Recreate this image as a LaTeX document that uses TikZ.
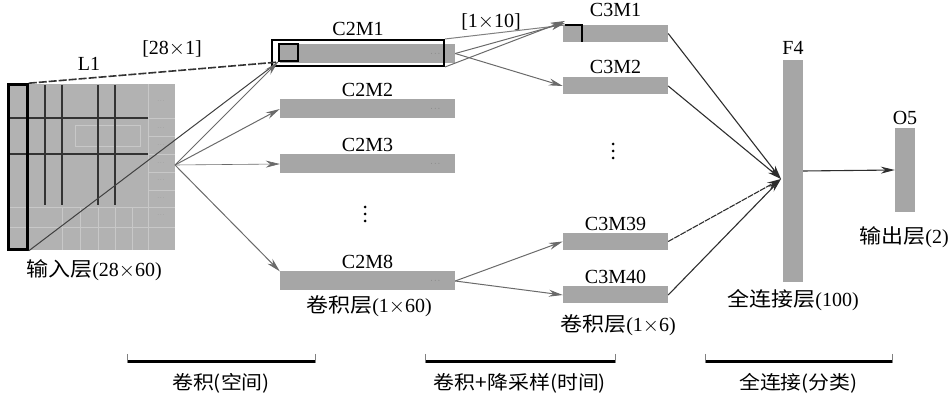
\documentclass[tikz,border=0pt]{standalone}
\usepackage{fontspec}
\setmainfont{Liberation Serif}
\newfontfamily\cjk[FakeStretch=1.1]{Noto Sans CJK SC}
\usetikzlibrary{arrows.meta,positioning}
\definecolor{barg}{HTML}{A6A6A6}
\definecolor{ing}{HTML}{B2B2B2}
\definecolor{arrg}{HTML}{6A6A6A}
\definecolor{arrd}{HTML}{2E2E2E}
\definecolor{faint}{HTML}{C8C8C8}
\begin{document}
\begin{tikzpicture}[x=1pt,y=-1pt,
  bar/.style={fill=barg,draw=none,inner sep=0pt,minimum width=175pt,minimum height=19pt},
  sbar/.style={fill=barg,draw=none,inner sep=0pt,minimum width=105pt,minimum height=17pt},
  lbl/.style={font=\fontsize{20}{22}\selectfont,inner sep=0pt},
  cnl/.style={font=\fontsize{19}{21}\selectfont\cjk,inner sep=0pt},
  arr/.style={draw=arrg,line width=1pt,-{Stealth[length=14pt,width=7pt]}},
  arrk/.style={draw=arrd,line width=1.1pt,-{Stealth[length=14pt,width=7pt]}},
  grid/.style={draw=black!80,line width=2pt},
  fline/.style={draw=faint,line width=0.6pt},
  blk/.style={draw=black,line width=2.2pt},
  brk/.style={draw=black,line width=3pt},
  tick/.style={draw=gray,line width=0.7pt},
  vdot/.style={circle,fill=black,inner sep=0pt,minimum size=3pt}]
\useasboundingbox (0,0) rectangle (951,395);

% ---------- input layer ----------
\node[fill=ing,draw=none,inner sep=0pt,minimum width=167pt,minimum height=166pt] (in) at (91.5,167) {};
\draw[fline] (148,84) -- (148,250);
\draw[fline] (8,207) -- (148,207);
\draw[fline] (8,227) -- (175,227);
\foreach \yy in {118,136,154,172,190,207} \draw[fline] (148,\yy) -- (175,\yy);
\foreach \xx in {62,80,98,115,132} \draw[fline] (\xx,207) -- (\xx,250);
\draw[fline] (75,125) rectangle (140,146);
\foreach \yy in {101,128,145,163,180,198,215} \node[text=gray,font=\tiny,inner sep=0pt] (dt\yy) at (161,\yy) {$\cdot\!\cdot\!\cdot$};
\foreach \xx in {45,62,98,115} \draw[grid] (\xx,85) -- (\xx,205);
\draw[grid] (8,118) -- (148,118);
\draw[grid] (8,154) -- (148,154);
\node[draw=black,line width=2.6pt,inner sep=0pt,minimum width=19pt,minimum height=165pt] (l1) at (18,167) {};
\node[lbl] (inlbl) at (94,270) {{\cjk 输入层}(28$\times$60)};
\node[lbl] (l1lbl) at (89,64) {L1};
\node[lbl] (k1lbl) at (172,49) {[28$\times$1]};

% ---------- C2 layer ----------
\node[bar] (c2m1) at (367.5,53.5) {};
\node[bar] (c2m2) at (367.5,109) {};
\node[bar] (c2m3) at (367.5,164) {};
\node[bar] (c2m8) at (367.5,281) {};
\foreach \n in {c2m1,c2m2,c2m3,c2m8} \node[text=gray!70!black,font=\scriptsize,inner sep=0pt] at ([xshift=-20pt]\n.east) {$\cdots$};
\node[draw=black,line width=2pt,inner sep=0pt,minimum width=172pt,minimum height=26pt] (c2box) at (358,53) {};
\node[draw=black,line width=2.2pt,inner sep=0pt,minimum width=19pt,minimum height=17pt] (small) at (288.5,52.5) {};
\node[lbl,above=3pt of c2box] (c2m1l) {C2M1};
\node[lbl,above=2pt of c2m2] (c2m2l) {C2M2};
\node[lbl,above=2pt of c2m3] (c2m3l) {C2M3};
\node[lbl,above=2pt of c2m8] (c2m8l) {C2M8};
\node[vdot] (c2d1) at (365,207) {};
\node[vdot] (c2d2) at (365,214) {};
\node[vdot] (c2d3) at (365,221) {};
\node[lbl] (c2lbl) at (369,306) {{\cjk 卷积层}(1$\times$60)};
\node[lbl] (k2lbl) at (491,22) {[1$\times$10]};

% ---------- C3 layer ----------
\node[sbar] (c3m1) at (615.5,33.5) {};
\node[sbar] (c3m2) at (615.5,86) {};
\node[sbar] (c3m39) at (615.5,241.5) {};
\node[sbar] (c3m40) at (615.5,295) {};
\node[lbl,above=8pt of c3m1] (c3m1l) {C3M1};
\node[lbl,above=3pt of c3m2] (c3m2l) {C3M2};
\node[lbl,above=2pt of c3m39] (c3m39l) {C3M39};
\node[lbl,above=2pt of c3m40] (c3m40l) {C3M40};
\node[vdot] (c3d1) at (613,144) {};
\node[vdot] (c3d2) at (613,151) {};
\node[vdot] (c3d3) at (613,158) {};
\node[lbl] (c3lbl) at (618,325) {{\cjk 卷积层}(1$\times$6)};
\coordinate (brA) at (565,25);
\coordinate (brB) at (582,25);
\coordinate (brC) at (582,42);
\draw[blk] (brA) -- (brB) -- (brC);

% ---------- F4 and O5 ----------
\node[fill=barg,draw=none,inner sep=0pt,minimum width=20pt,minimum height=222pt] (f4) at (793,171) {};
\node[fill=barg,draw=none,inner sep=0pt,minimum width=20pt,minimum height=84pt] (o5) at (905,170) {};
\node[lbl,above=5pt of f4] (f4l) {F4};
\node[lbl,above=3pt of o5] (o5l) {O5};
\node[lbl] (f4lbl) at (793,300) {{\cjk 全连接层}(100)};
\node[lbl] (o5lbl) at (904,237) {{\cjk 输出层}(2)};
\coordinate (fin) at (781,179);

% ---------- connectors ----------
\draw[draw=black!80,line width=1.6pt,dashed,dash pattern=on 8pt off 2pt] (l1.north east) -- (small.south west);
\draw[draw=black!75,line width=1pt] (l1.south east) -- (small.south west);
\coordinate (inout) at (175,165);
\draw[arr] (inout) -- (small.south west);
\draw[arr] (inout) -- (c2m2.west);
\draw[arr,line width=0.6pt] (inout) -- (c2m3.west);
\draw[arr] (inout) -- (c2m8.north west);

\draw[draw=gray,line width=1pt] (c2box.north east) -- (brA);
\draw[arr] (c2box.south east) -- ([yshift=4pt]brA);
\draw[arr] (c2m1.east) -- ([yshift=2pt]brA);
\draw[arr] (c2m1.east) -- (c3m2.west);
\draw[arr] (c2m8.east) -- (c3m39.west);
\draw[arr] (c2m8.east) -- (c3m40.west);

\draw[arrk] (c3m1.east) -- (fin);
\draw[arrk] (c3m2.east) -- (fin);
\draw[arrk,dashed,dash pattern=on 6pt off 1pt] (c3m39.east) -- (fin);
\draw[arrk] (c3m40.east) -- (fin);
\draw[arrk] (f4.east) -- (o5.west);

% ---------- bottom brackets ----------
\foreach \a/\b/\t/\nm in {127/315/{卷积(空间)}/b1,425/615/{卷积+降采样(时间)}/b2,705/892/{全连接(分类)}/b3}{
  \draw[brk] (\a,362) -- (\b,362);
  \draw[tick] (\a,354) -- (\a,363);
  \draw[tick] (\b,354) -- (\b,363);
  \node[cnl] (\nm) at ({(\a+\b)/2},383) {\t};
}
\end{tikzpicture}
\end{document}
